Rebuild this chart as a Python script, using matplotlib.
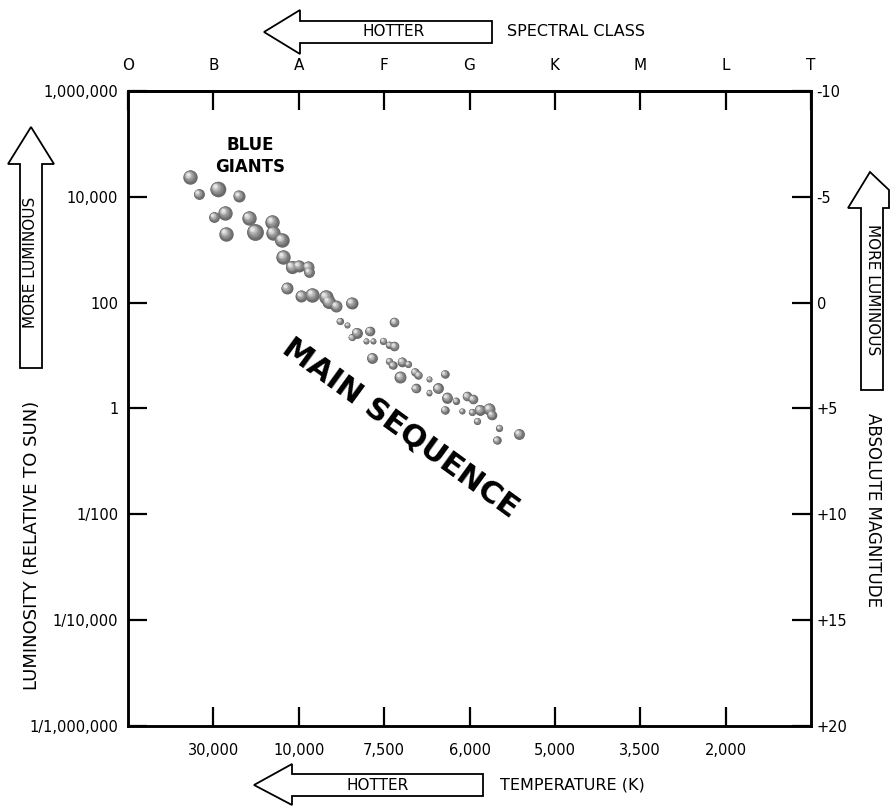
# Hertzsprung-Russell diagram: main sequence stars and blue giants
import matplotlib
matplotlib.use("Agg")
import matplotlib.pyplot as plt
from matplotlib.patches import Polygon
from matplotlib.transforms import offset_copy

# spectral classes along the top (position 0..8), temperatures along the bottom
spectral_classes = ["O", "B", "A", "F", "G", "K", "M", "L", "T"]
temp_labels = ["30,000", "10,000", "7,500", "6,000", "5,000", "3,500", "2,000"]
lum_ticks = [1e6, 1e4, 1e2, 1, 1e-2, 1e-4, 1e-6]
lum_labels = ["1,000,000", "10,000", "100", "1", "1/100", "1/10,000", "1/1,000,000"]
mag_ticks = [-10, -5, 0, 5, 10, 15, 20]
mag_labels = ["-10", "-5", "0", "+5", "+10", "+15", "+20"]

# stars: spectral position (O=0, B=1, ...) and luminosity relative to the sun
star_class = [0.73, 0.83, 1.05, 1.30, 1.01, 1.14, 1.15, 1.42, 1.49, 1.69,
              1.70, 1.80, 1.82, 1.92, 2.00, 2.11, 2.12, 1.86, 2.03, 2.16,
              2.32, 2.35, 2.44, 2.62, 2.48, 2.57, 3.12, 2.83, 2.68, 2.62,
              2.79, 2.87, 2.99, 3.06, 3.12, 2.86, 3.06, 3.10, 3.21, 3.28,
              3.19, 3.36, 3.40, 3.53, 3.71, 3.37, 3.53, 3.63, 3.74, 3.84,
              3.97, 4.04, 3.71, 3.91, 4.03, 4.12, 4.23, 4.26, 4.09, 4.35,
              4.32, 4.58]
star_lum = [23700, 11300, 14100, 10400, 4160, 4950, 1990, 3980, 2170, 3350,
            2070, 1530, 730, 472, 493, 472, 380, 189, 134, 140,
            128, 103, 86, 99, 45, 38, 43, 29, 27, 22,
            19, 19, 19, 16, 15, 9.0, 7.9, 6.6, 7.6, 6.9,
            3.9, 4.9, 4.3, 3.6, 4.5, 2.4, 2.0, 2.4, 1.6, 1.4,
            1.7, 1.5, 0.94, 0.90, 0.86, 0.94, 0.98, 0.76, 0.58, 0.43,
            0.25, 0.33]
# marker radius in pixels
star_size = [6, 4.5, 6.5, 5, 4.5, 6, 6, 6, 7, 6,
             6, 6, 6, 5.5, 5, 5, 4.5, 5, 5, 6,
             6, 5.5, 5, 5, 3, 2.5, 4, 4, 4.5, 3,
             2.5, 2.5, 3, 3, 4, 4.5, 3, 3.5, 4, 3,
             5, 3.5, 3.5, 2.5, 3.5, 4, 2.5, 4.5, 4.5, 3,
             4, 4, 3.5, 2.5, 3, 4.5, 5, 4, 3, 3,
             3.5, 4.5]

W, H = 890, 806
fig = plt.figure(figsize=(W / 100, H / 100), dpi=100)
ax = fig.add_axes([128 / W, 1 - 726 / H, (811 - 128) / W, (726 - 91) / H])

ax.set_xlim(0, 8)
ax.set_yscale("log")
ax.set_ylim(1e-6, 1e6)
ax.minorticks_off()
ax.set_xticks(range(1, 8), temp_labels)
ax.set_yticks(lum_ticks, lum_labels)
ax.tick_params(axis="x", direction="in", length=14, width=1.6, pad=12, labelsize=10.5)
ax.tick_params(axis="y", direction="in", length=14, width=1.6, pad=7, labelsize=10.5)
for sp in ax.spines.values():
    sp.set_linewidth(1.8)

top = ax.secondary_xaxis("top")
top.set_xticks(range(9), spectral_classes)
top.tick_params(direction="in", length=14, width=1.6, pad=13, labelsize=11)
top.spines["top"].set_linewidth(1.8)

ax_r = ax.twinx()
ax_r.set_ylim(20, -10)
ax_r.set_yticks(mag_ticks, mag_labels)
ax_r.tick_params(direction="in", length=14, width=1.6, pad=4, labelsize=10.5)
for sp in ax_r.spines.values():
    sp.set_linewidth(1.8)

# shaded spheres: darker rim, lighter highlight toward the upper left
n_layers = 10
for x, y, r in zip(star_class, star_lum, star_size):
    r = r * 1.2
    for i in range(n_layers):
        f = 1 - 0.85 * i / n_layers
        g = 0.40 + 0.50 * (i / (n_layers - 1)) ** 1.4
        shift = (1 - f) * r * 0.5 * 0.72
        tr = offset_copy(ax.transData, fig=fig, x=-shift, y=shift, units="points")
        ax.scatter([x], [y], s=(1.44 * r * f) ** 2, color=(g, g, g),
                   linewidths=0, transform=tr, zorder=3 + i * 0.01)

ax.text(1.43, 5.9e4, "BLUE\nGIANTS", ha="center", va="center", fontsize=12,
        fontweight="bold", linespacing=1.3)
ax.text(3.19, 0.43, "MAIN SEQUENCE", ha="center", va="center", fontsize=22,
        fontweight="bold", rotation=-36, rotation_mode="anchor")

# overlay in pixel coordinates for arrows and outer labels
ov = fig.add_axes([0, 0, 1, 1], facecolor="none")
ov.set_xlim(0, W)
ov.set_ylim(H, 0)
ov.axis("off")

narrow = ["Liberation Sans Narrow", "DejaVu Sans"]
arrow_kw = dict(closed=True, facecolor="white", edgecolor="black", linewidth=1.3)
ov.add_patch(Polygon([(264, 32), (300, 10), (300, 21), (492, 21), (492, 43),
                      (300, 43), (300, 54)], **arrow_kw))
ov.add_patch(Polygon([(254, 785), (292, 764), (292, 774), (483, 774), (483, 796),
                      (292, 796), (292, 805)], **arrow_kw))
ov.add_patch(Polygon([(31, 127), (8, 164), (20, 164), (20, 368), (42, 368),
                      (42, 164), (54, 164)], **arrow_kw))
ov.add_patch(Polygon([(870, 172), (848, 208), (861, 208), (861, 390), (883, 390),
                      (883, 208), (889, 208), (889, 190)], **arrow_kw))

ov.text(394, 32, "HOTTER", ha="center", va="center", fontsize=11, family=narrow)
ov.text(507, 32, "SPECTRAL CLASS", ha="left", va="center", fontsize=11.5)
ov.text(378, 785, "HOTTER", ha="center", va="center", fontsize=11, family=narrow)
ov.text(500, 785, "TEMPERATURE (K)", ha="left", va="center", fontsize=11.5)
ov.text(31, 262, "MORE LUMINOUS", ha="center", va="center", rotation=90,
        fontsize=11, family=narrow)
ov.text(32, 545, "LUMINOSITY (RELATIVE TO SUN)", ha="center", va="center",
        rotation=90, fontsize=13)
ov.text(872, 290, "MORE LUMINOUS", ha="center", va="center", rotation=270,
        fontsize=11, family=narrow)
ov.text(873, 510, "ABSOLUTE MAGNITUDE", ha="center", va="center", rotation=270,
        fontsize=12)

fig.savefig("out.png", dpi=100)
